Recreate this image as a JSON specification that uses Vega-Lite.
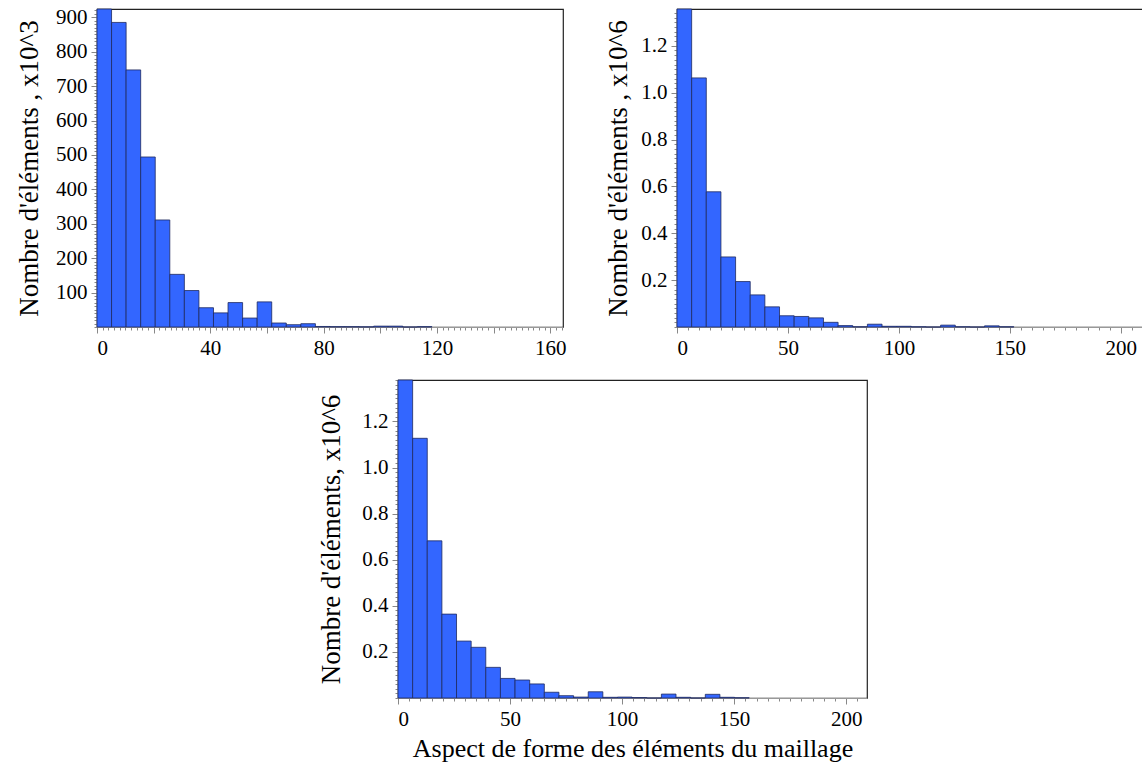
{
  "$schema": "https://vega.github.io/schema/vega-lite/v6.json",
  "padding": {"left": 14, "top": 5, "right": 0, "bottom": 0},
  "background": "white",
  "config": {
    "font": "Liberation Serif",
    "view": {"stroke": "#222", "strokeWidth": 1.2},
    "axis": {
      "labelFont": "Liberation Serif", "labelFontSize": 21, "labelColor": "black",
      "titleFont": "Liberation Serif", "titleFontSize": 26, "titleFontWeight": "normal", "titleColor": "black",
      "tickColor": "#888", "domainColor": "#999", "grid": false, "labelOverlap": false, "labelPadding": 4
    }
  },
  "datasets": {
    "a": [
      {"x0": 0, "x1": 5.14, "n": 924},
      {"x0": 5.14, "x1": 10.28, "n": 885},
      {"x0": 10.28, "x1": 15.42, "n": 747},
      {"x0": 15.42, "x1": 20.56, "n": 494},
      {"x0": 20.56, "x1": 25.7, "n": 311},
      {"x0": 25.7, "x1": 30.84, "n": 153},
      {"x0": 30.84, "x1": 35.98, "n": 106},
      {"x0": 35.98, "x1": 41.12, "n": 56},
      {"x0": 41.12, "x1": 46.26, "n": 41},
      {"x0": 46.26, "x1": 51.4, "n": 71},
      {"x0": 51.4, "x1": 56.54, "n": 26},
      {"x0": 56.54, "x1": 61.68, "n": 73},
      {"x0": 61.68, "x1": 66.82, "n": 11.6},
      {"x0": 66.82, "x1": 71.96, "n": 6.7},
      {"x0": 71.96, "x1": 77.1, "n": 9.6},
      {"x0": 77.1, "x1": 82.24, "n": 1.5},
      {"x0": 82.24, "x1": 87.38, "n": 1},
      {"x0": 87.38, "x1": 92.52, "n": 1},
      {"x0": 92.52, "x1": 97.66, "n": 0.5},
      {"x0": 97.66, "x1": 102.8, "n": 2.5},
      {"x0": 102.8, "x1": 107.94, "n": 2.5},
      {"x0": 107.94, "x1": 113.08, "n": 0},
      {"x0": 113.08, "x1": 118.22, "n": 1}
    ],
    "b": [
      {"x0": 0, "x1": 6.6, "n": 1.357},
      {"x0": 6.6, "x1": 13.2, "n": 1.063},
      {"x0": 13.2, "x1": 19.8, "n": 0.577},
      {"x0": 19.8, "x1": 26.4, "n": 0.299},
      {"x0": 26.4, "x1": 33, "n": 0.194},
      {"x0": 33, "x1": 39.6, "n": 0.137},
      {"x0": 39.6, "x1": 46.2, "n": 0.086},
      {"x0": 46.2, "x1": 52.8, "n": 0.048},
      {"x0": 52.8, "x1": 59.4, "n": 0.045},
      {"x0": 59.4, "x1": 66, "n": 0.039},
      {"x0": 66, "x1": 72.6, "n": 0.02},
      {"x0": 72.6, "x1": 79.2, "n": 0.006},
      {"x0": 79.2, "x1": 85.8, "n": 0.001},
      {"x0": 85.8, "x1": 92.4, "n": 0.012},
      {"x0": 92.4, "x1": 99, "n": 0.003},
      {"x0": 99, "x1": 105.6, "n": 0.003},
      {"x0": 105.6, "x1": 112.2, "n": 0.001},
      {"x0": 112.2, "x1": 118.8, "n": 0},
      {"x0": 118.8, "x1": 125.4, "n": 0.008},
      {"x0": 125.4, "x1": 132, "n": 0.001},
      {"x0": 132, "x1": 138.6, "n": 0},
      {"x0": 138.6, "x1": 145.2, "n": 0.005},
      {"x0": 145.2, "x1": 151.8, "n": 0.001}
    ],
    "c": [
      {"x0": 0, "x1": 6.53, "n": 1.38},
      {"x0": 6.53, "x1": 13.06, "n": 1.127},
      {"x0": 13.06, "x1": 19.59, "n": 0.682},
      {"x0": 19.59, "x1": 26.12, "n": 0.364},
      {"x0": 26.12, "x1": 32.65, "n": 0.247},
      {"x0": 32.65, "x1": 39.18, "n": 0.22},
      {"x0": 39.18, "x1": 45.71, "n": 0.133},
      {"x0": 45.71, "x1": 52.24, "n": 0.085},
      {"x0": 52.24, "x1": 58.77, "n": 0.078},
      {"x0": 58.77, "x1": 65.3, "n": 0.061},
      {"x0": 65.3, "x1": 71.83, "n": 0.025},
      {"x0": 71.83, "x1": 78.36, "n": 0.01},
      {"x0": 78.36, "x1": 84.89, "n": 0.004},
      {"x0": 84.89, "x1": 91.42, "n": 0.027},
      {"x0": 91.42, "x1": 97.95, "n": 0.003},
      {"x0": 97.95, "x1": 104.48, "n": 0.004},
      {"x0": 104.48, "x1": 111.01, "n": 0.002},
      {"x0": 111.01, "x1": 117.54, "n": 0},
      {"x0": 117.54, "x1": 124.07, "n": 0.017},
      {"x0": 124.07, "x1": 130.6, "n": 0.003},
      {"x0": 130.6, "x1": 137.13, "n": 0},
      {"x0": 137.13, "x1": 143.66, "n": 0.016},
      {"x0": 143.66, "x1": 150.19, "n": 0.003},
      {"x0": 150.19, "x1": 156.72, "n": 0.001}
    ]
  },
  "spacing": 19,
  "vconcat": [
    {
      "spacing": 37,
      "hconcat": [
        {
          "width": 466, "height": 318,
          "data": {"name": "a"},
          "layer": [
            {
              "mark": {"type": "bar", "fill": "#3366ff", "stroke": "#1e2a60", "strokeWidth": 0.8},
              "encoding": {
                "x": {"field": "x0", "type": "quantitative", "scale": {"domain": [0, 164.5], "nice": false, "zero": false},
                      "axis": {"orient": "bottom", "tickCount": 82, "labels": false, "domain": false, "tickSize": 3, "title": null}},
                "x2": {"field": "x1"},
                "y": {"field": "n", "type": "quantitative", "scale": {"domain": [0, 924], "nice": false},
                      "axis": {"orient": "left", "tickCount": 92, "labels": false, "domain": false, "tickSize": 3, "title": null}},
                "y2": {"datum": 0}
              }
            },
            {
              "mark": {"type": "bar", "opacity": 0},
              "encoding": {
                "x": {"field": "x0", "type": "quantitative",
                      "axis": {"orient": "bottom", "values": [0, 20, 40, 60, 80, 100, 120, 140, 160], "format": "d",
                               "labelExpr": "datum.value % 40 === 0 ? datum.label : ''", "tickSize": 6, "title": null}},
                "x2": {"field": "x1"},
                "y": {"field": "n", "type": "quantitative",
                      "axis": {"orient": "left", "values": [100, 200, 300, 400, 500, 600, 700, 800, 900], "format": "d",
                               "tickSize": 6, "title": "Nombre d'éléments , x10^3", "titlePadding": 12, "titleFontSize": 27}},
                "y2": {"datum": 0}
              }
            }
          ],
          "resolve": {"axis": {"x": "independent", "y": "independent"}}
        },
        {
          "width": 466, "height": 318,
          "data": {"name": "b"},
          "layer": [
            {
              "mark": {"type": "bar", "fill": "#3366ff", "stroke": "#1e2a60", "strokeWidth": 0.8},
              "encoding": {
                "x": {"field": "x0", "type": "quantitative", "scale": {"domain": [0, 210], "nice": false, "zero": false},
                      "axis": {"orient": "bottom", "tickCount": 42, "labels": false, "domain": false, "tickSize": 3, "title": null}},
                "x2": {"field": "x1"},
                "y": {"field": "n", "type": "quantitative", "scale": {"domain": [0, 1.357], "nice": false},
                      "axis": {"orient": "left", "tickCount": 68, "labels": false, "domain": false, "tickSize": 3, "title": null}},
                "y2": {"datum": 0}
              }
            },
            {
              "mark": {"type": "bar", "opacity": 0},
              "encoding": {
                "x": {"field": "x0", "type": "quantitative",
                      "axis": {"orient": "bottom", "values": [0, 50, 100, 150, 200], "format": "d", "labelFlush": 1,
                               "tickSize": 6, "title": null}},
                "x2": {"field": "x1"},
                "y": {"field": "n", "type": "quantitative",
                      "axis": {"orient": "left", "values": [0.2, 0.4, 0.6, 0.8, 1.0, 1.2], "format": ".1f",
                               "tickSize": 6, "title": "Nombre d'éléments , x10^6", "titlePadding": 8, "titleFontSize": 27}},
                "y2": {"datum": 0}
              }
            }
          ],
          "resolve": {"axis": {"x": "independent", "y": "independent"}}
        }
      ]
    },
    {
      "spacing": 0,
      "hconcat": [
        {
          "width": 220, "height": 318,
          "view": {"stroke": null},
          "data": {"values": []},
          "mark": "point"
        },
        {
          "width": 469, "height": 318,
          "data": {"name": "c"},
          "layer": [
            {
              "mark": {"type": "bar", "fill": "#3366ff", "stroke": "#1e2a60", "strokeWidth": 0.8},
              "encoding": {
                "x": {"field": "x0", "type": "quantitative", "scale": {"domain": [0, 209.3], "nice": false, "zero": false},
                      "axis": {"orient": "bottom", "tickCount": 42, "labels": false, "domain": false, "tickSize": 3, "title": null}},
                "x2": {"field": "x1"},
                "y": {"field": "n", "type": "quantitative", "scale": {"domain": [0, 1.38], "nice": false},
                      "axis": {"orient": "left", "tickCount": 69, "labels": false, "domain": false, "tickSize": 3, "title": null}},
                "y2": {"datum": 0}
              }
            },
            {
              "mark": {"type": "bar", "opacity": 0},
              "encoding": {
                "x": {"field": "x0", "type": "quantitative",
                      "axis": {"orient": "bottom", "values": [0, 50, 100, 150, 200], "format": "d",
                               "tickSize": 6, "title": "Aspect de forme des éléments du maillage", "titlePadding": 6}},
                "x2": {"field": "x1"},
                "y": {"field": "n", "type": "quantitative",
                      "axis": {"orient": "left", "values": [0.2, 0.4, 0.6, 0.8, 1.0, 1.2], "format": ".1f",
                               "tickSize": 6, "title": "Nombre d'éléments, x10^6", "titlePadding": 16, "titleFontSize": 27}},
                "y2": {"datum": 0}
              }
            }
          ],
          "resolve": {"axis": {"x": "independent", "y": "independent"}}
        }
      ]
    }
  ]
}
